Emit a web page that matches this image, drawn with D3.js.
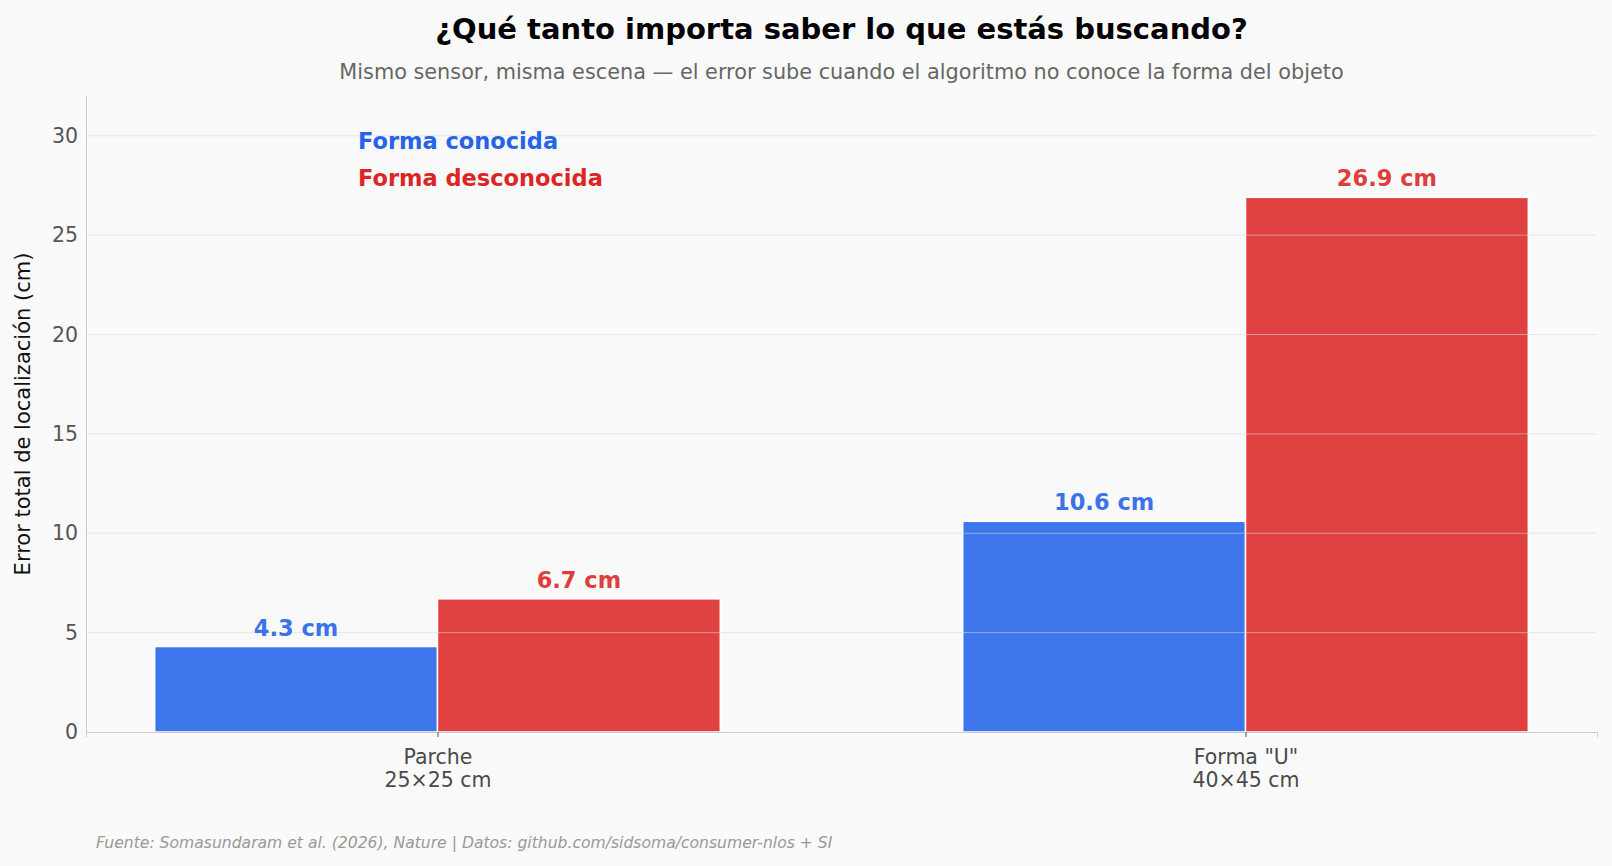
<!DOCTYPE html>
<html>
<head>
<meta charset="utf-8">
<script src="https://cdn.jsdelivr.net/npm/d3@7"></script>
<style>
  body { margin: 0; background: #fafafa; }
  svg { display: block; font-family: 'DejaVu Sans', sans-serif; }
</style>
</head>
<body>
<div id="chart"></div>
<script>
// data
const categories = ['Parche', 'Forma "U"']
const categorySizes = ['25×25 cm', '40×45 cm']
const seriesNames = ['Forma conocida', 'Forma desconocida']
const knownShape = [4.3, 10.6]
const unknownShape = [6.7, 26.9]
const yTicks = [0, 5, 10, 15, 20, 25, 30]

const WIDTH = 1612
const HEIGHT = 866
const margin = {top: 96, right: 15, bottom: 134, left: 86}
const innerW = WIDTH - margin.left - margin.right
const innerH = HEIGHT - margin.top - margin.bottom

const barColors = ['#3e76eb', '#e04141']
const textColors = ['#2563eb', '#dc2626']
const labelColors = ['#3b73ea', '#df3e3e']
const barWidth = 0.35

const svg = d3.select('#chart')
  .append('svg')
  .attr('width', WIDTH)
  .attr('height', HEIGHT)

svg.append('rect')
  .attr('width', WIDTH)
  .attr('height', HEIGHT)
  .attr('fill', '#fafafa')

const g = svg.append('g')
  .attr('transform', `translate(${[margin.left, margin.top]})`)

const xScale = d3.scaleLinear()
  .domain([-0.435, categories.length - 1 + 0.435])
  .range([0, innerW])

const yScale = d3.scaleLinear()
  .domain([0, 32])
  .range([innerH, 0])

// bars
const series = [knownShape, unknownShape]
const rows = []
series.forEach((values, s) => {
  values.forEach((v, i) => {
    rows.push({i, s, v, x0: s === 0 ? i - barWidth : i})
  })
})

g.append('g')
  .attr('class', 'bars')
  .selectAll('rect')
  .data(rows)
  .join('rect')
  .attr('x', d => xScale(d.x0))
  .attr('y', d => yScale(d.v))
  .attr('width', d => xScale(d.x0 + barWidth) - xScale(d.x0))
  .attr('height', d => yScale(0) - yScale(d.v))
  .attr('fill', d => barColors[d.s])
  .attr('stroke', '#ffffff')
  .attr('stroke-width', 1.5)

// grid (drawn above the bars, faint)
g.append('g')
  .attr('class', 'grid')
  .selectAll('line')
  .data(yTicks.filter(t => t > 0))
  .join('line')
  .attr('x1', 0)
  .attr('x2', innerW)
  .attr('y1', d => yScale(d))
  .attr('y2', d => yScale(d))
  .attr('stroke', '#d8d8d8')
  .attr('stroke-opacity', 0.55)
  .attr('stroke-width', 1)

// y axis
const yAxis = d3.axisLeft(yScale).tickValues(yTicks).tickSize(0).tickPadding(8)
const yAxisG = g.append('g')
  .attr('class', 'axis axis-y')
  .call(yAxis)
yAxisG.select('.domain').attr('stroke', '#cccccc')
yAxisG.selectAll('text')
  .attr('fill', '#555555')
  .style('font-size', '20.5px')
  .style('font-family', "'DejaVu Sans', sans-serif")

// x axis
const xAxis = d3.axisBottom(xScale)
  .tickValues(d3.range(categories.length))
  .tickSize(5)
  .tickFormat('')
const xAxisG = g.append('g')
  .attr('class', 'axis axis-x')
  .attr('transform', `translate(0,${innerH})`)
  .call(xAxis)
xAxisG.select('.domain').attr('stroke', '#cccccc')
xAxisG.selectAll('.tick line').attr('stroke', '#555555')

const tickText = xAxisG.selectAll('.tick')
  .append('text')
  .attr('fill', '#4a4a4a')
  .attr('text-anchor', 'middle')
  .style('font-size', '20.5px')
  .style('font-family', "'DejaVu Sans', sans-serif")
tickText.append('tspan')
  .attr('x', 0)
  .attr('y', 32)
  .text((d, i) => categories[i])
tickText.append('tspan')
  .attr('x', 0)
  .attr('y', 55)
  .text((d, i) => categorySizes[i])

// value labels
g.append('g')
  .attr('class', 'value-labels')
  .selectAll('text')
  .data(rows)
  .join('text')
  .attr('x', d => xScale(d.x0 + barWidth / 2))
  .attr('y', d => yScale(d.v) - 11)
  .attr('text-anchor', 'middle')
  .attr('fill', d => labelColors[d.s])
  .style('font-size', '22.5px')
  .style('font-weight', 'bold')
  .text(d => `${d.v.toFixed(1)} cm`)

// legend as colored text
g.append('g')
  .attr('class', 'legend')
  .selectAll('text')
  .data(seriesNames)
  .join('text')
  .attr('x', 272)
  .attr('y', (d, i) => 53 + i * 37)
  .attr('fill', (d, i) => textColors[i])
  .style('font-size', '22.5px')
  .style('font-weight', 'bold')
  .text(d => d)

// y axis title
svg.append('text')
  .attr('transform', `translate(30,${margin.top + innerH / 2}) rotate(-90)`)
  .attr('text-anchor', 'middle')
  .attr('fill', '#111111')
  .style('font-size', '21px')
  .text('Error total de localización (cm)')

// title & subtitle
const cx = margin.left + innerW / 2
svg.append('text')
  .attr('x', cx)
  .attr('y', 39)
  .attr('text-anchor', 'middle')
  .attr('fill', '#000000')
  .style('font-size', '29px')
  .style('font-weight', 'bold')
  .text('¿Qué tanto importa saber lo que estás buscando?')

svg.append('text')
  .attr('x', cx)
  .attr('y', 79)
  .attr('text-anchor', 'middle')
  .attr('fill', '#666666')
  .style('font-size', '20.8px')
  .text('Mismo sensor, misma escena — el error sube cuando el algoritmo no conoce la forma del objeto')

// footer
svg.append('text')
  .attr('x', 96)
  .attr('y', 848)
  .attr('fill', '#999999')
  .style('font-size', '15.6px')
  .style('font-style', 'italic')
  .text('Fuente: Somasundaram et al. (2026), Nature | Datos: github.com/sidsoma/consumer-nlos + SI')
</script>
</body>
</html>
